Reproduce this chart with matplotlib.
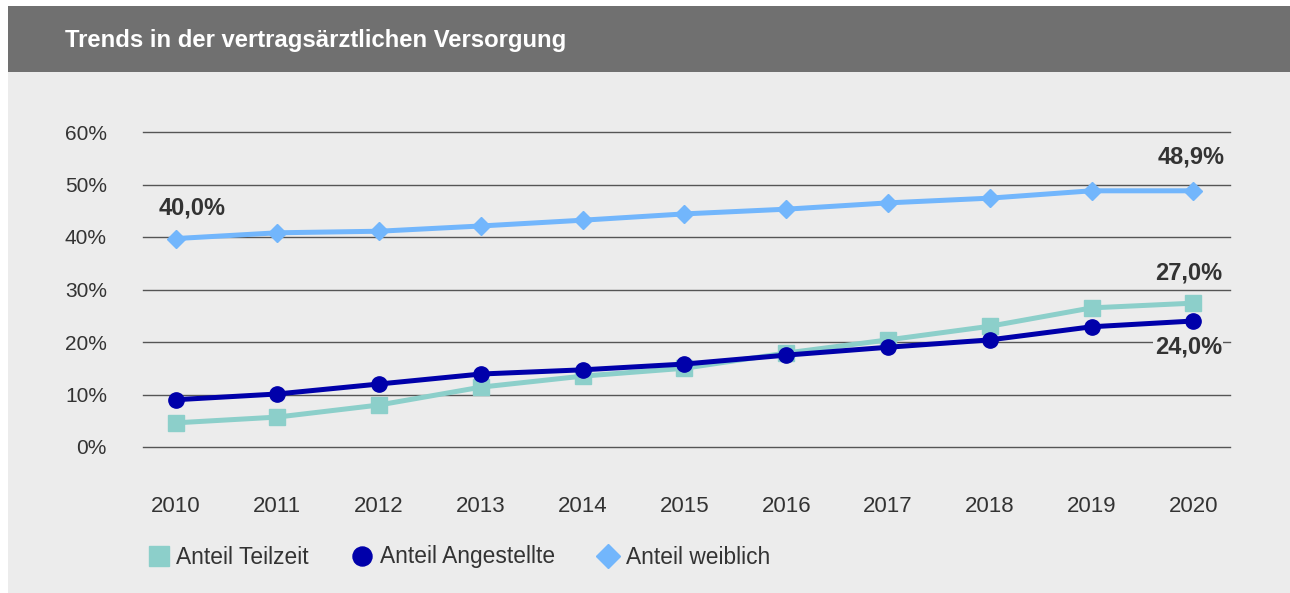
import matplotlib
matplotlib.use("Agg")
import matplotlib.pyplot as plt
from matplotlib.lines import Line2D
from matplotlib.patches import Rectangle

plt.rcParams['font.family'] = ['Liberation Sans', 'DejaVu Sans']

# data
years = [2010, 2011, 2012, 2013, 2014, 2015, 2016, 2017, 2018, 2019, 2020]
teilzeit = [4.6, 5.7, 8.0, 11.4, 13.5, 15.0, 17.9, 20.4, 23.0, 26.5, 27.4]
angestellte = [9.0, 10.1, 12.0, 13.9, 14.7, 15.8, 17.5, 19.0, 20.4, 22.9, 24.0]
weiblich = [39.7, 40.8, 41.1, 42.1, 43.2, 44.4, 45.3, 46.5, 47.4, 48.8, 48.8]
series_names = ["Anteil Teilzeit", "Anteil Angestellte", "Anteil weiblich"]
y_ticks = [0, 10, 20, 30, 40, 50, 60]
y_tick_labels = ["0%", "10%", "20%", "30%", "40%", "50%", "60%"]
title = "Trends in der vertragsärztlichen Versorgung"

bg = "#ececec"
txt = "#333333"
c_teil = "#8ccfca"
c_ang = "#0000aa"
c_weib = "#72b6fc"

W, H = 1290, 593
fig = plt.figure(figsize=(W / 100, H / 100), dpi=100)
fig.patch.set_facecolor("white")

# background panel and title bar
fig.patches.append(Rectangle((8 / W, 0), 1 - 8 / W, 1 - 72 / H, transform=fig.transFigure,
                             facecolor=bg, edgecolor="none", zorder=-2))
fig.patches.append(Rectangle((8 / W, 1 - 72 / H), 1 - 8 / W, 66 / H, transform=fig.transFigure,
                             facecolor="#707070", edgecolor="none", zorder=-1))
fig.text(65 / W, 1 - 41 / H, title, color="white", fontsize=17.2, fontweight="bold",
         va="center", ha="left")

ax = fig.add_axes([143 / W, 1 - 447 / H, (1230 - 143) / W, (447 - 132) / H])
ax.set_facecolor(bg)
ax.patch.set_alpha(0)
for s in ax.spines.values():
    s.set_visible(False)

x = list(range(len(years)))
ax.plot(x, teilzeit, color=c_teil, lw=3.6, marker="s", ms=11, clip_on=False, zorder=3)
ax.plot(x, angestellte, color=c_ang, lw=3.6, marker="o", ms=11, clip_on=False, zorder=4)
ax.plot(x, weiblich, color=c_weib, lw=3.6, marker="D", ms=9, clip_on=False, zorder=3)

ax.set_xlim(-0.32, 10.36)
ax.set_ylim(0, 60)
ax.set_yticks(y_ticks)
ax.set_yticklabels(y_tick_labels)
ax.set_xticks(x)
ax.set_xticklabels([str(y) for y in years])
ax.tick_params(axis="both", length=0, labelcolor=txt)
ax.tick_params(axis="y", pad=26, labelsize=15)
ax.tick_params(axis="x", pad=35, labelsize=16)
ax.grid(axis="y", color="#555555", lw=1)
for gl in ax.get_ygridlines():
    gl.set_clip_on(False)
ax.set_axisbelow(True)

# value labels
ann = dict(fontsize=17, fontweight="bold", color=txt, ha="center", va="center",
           textcoords="offset points")
ax.annotate("40,0%", (x[0], weiblich[0]), xytext=(12, 22), **ann)
ax.annotate("48,9%", (x[-1], weiblich[-1]), xytext=(-1.5, 24.5), **ann)
ax.annotate("27,0%", (x[-1], teilzeit[-1]), xytext=(-3.6, 21.6), **ann)
ax.annotate("24,0%", (x[-1], angestellte[-1]), xytext=(-3.6, -18.7),
            bbox=dict(facecolor=bg, edgecolor="none", pad=1), **ann)

handles = [
    Line2D([], [], ls="none", marker="s", ms=13.7, color=c_teil),
    Line2D([], [], ls="none", marker="o", ms=13.7, color=c_ang),
    Line2D([], [], ls="none", marker="D", ms=12.5, color=c_weib),
]
leg = fig.legend(handles, series_names, loc="center left", ncol=3,
                 bbox_to_anchor=(138 / W, 1 - 557 / H), frameon=False,
                 borderaxespad=0, fontsize=16.4, handlelength=1.0,
                 handletextpad=0.27, columnspacing=1.85)
for t in leg.get_texts():
    t.set_color(txt)

fig.savefig("out.png", dpi=100, facecolor=fig.get_facecolor())
